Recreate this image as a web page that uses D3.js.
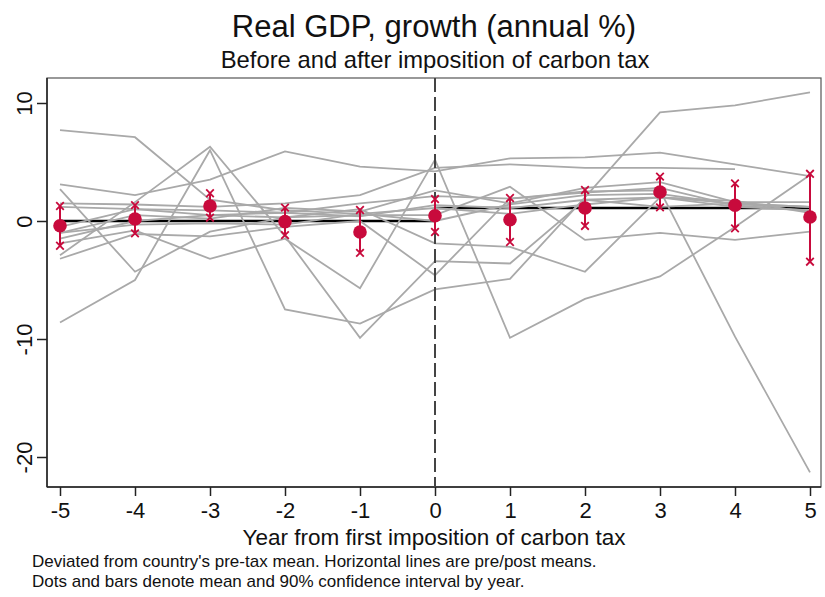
<!DOCTYPE html>
<html>
<head>
<meta charset="utf-8">
<script src="https://cdn.jsdelivr.net/npm/d3@7"></script>
<style>
  body { margin: 0; background: #fff; }
  text { font-family: "Liberation Sans", Arial, sans-serif; fill: #111; }
</style>
</head>
<body>
<div class="chart"></div>
<script>
// years relative to first imposition of the carbon tax
const years = [-5, -4, -3, -2, -1, 0, 1, 2, 3, 4, 5]

// one series per country, deviation from pre-tax mean
const c01 = [7.7, 7.1, 1.8, 0.9, 0.6, 1.1, 0.6, 1.4, 2.0, 1.2, 0.9]
const c02 = [-8.6, -5.0, 6.0, -7.5, -8.7, -5.8, -4.9, 2.0, 9.2, 9.8, 10.9]
const c03 = [-2.9, 1.6, 6.3, -1.3, -9.9, -3.4, -3.6, 1.8, 1.2, 1.5, 1.2]
const c04 = [-1.9, -0.8, -3.2, -1.5, -5.7, 5.2, -9.9, -6.6, -4.7, -0.5, 3.9]
const c05 = [3.1, 2.2, 3.5, 5.9, 4.6, 4.2, 5.3, 5.4, 5.8, 4.8, 3.8]
const c06 = [1.5, 1.4, 1.2, 1.5, 2.2, 4.5, 4.8, 4.5, 4.5, 4.4, null]
const c07 = [2.7, -4.3, -0.9, 0.3, 1.0, -1.9, -2.2, -4.3, 2.0, 1.7, 0.7]
const c08 = [-3.2, -1.1, -1.3, -0.5, 0.0, -4.6, 1.9, 2.4, 2.8, 1.3, 0.9]
const c09 = [1.2, 1.0, 0.5, 0.7, 1.5, 2.1, 1.9, 2.5, 2.6, -9.8, -21.3]
const c10 = [-0.5, 1.0, 0.9, 0.7, 0.4, 1.35, 1.1, 1.8, 2.0, 1.5, 1.2]
const c11 = [-1.0, -0.3, -0.2, -0.3, 0.6, 0.0, 1.4, 2.2, 2.3, 1.4, 1.2]
const c12 = [-1.0, 0.5, 0.2, 1.1, 0.8, 2.6, 1.5, 2.8, 3.3, 1.6, 1.6]
const c13 = [-1.5, 0.0, 0.5, 0.3, 0.5, 0.5, 2.9, -1.6, -1.0, -1.6, -0.9]
const countries = [c01, c02, c03, c04, c05, c06, c07, c08, c09, c10, c11, c12, c13]

// yearly mean and 90% CI
const meanByYear = [-0.4, 0.17, 1.27, -0.05, -0.93, 0.45, 0.11, 1.1, 2.46, 1.33, 0.34]
const ciLow = [-2.1, -1.05, 0.28, -1.2, -2.7, -0.93, -1.78, -0.42, 1.16, -0.62, -3.45]
const ciHigh = [1.27, 1.35, 2.35, 1.13, 0.93, 1.86, 1.95, 2.63, 3.76, 3.19, 4.0]

// pre / post means
const periodMeans = [
    {from: -5, to: 0, value: 0},
    {from: 0, to: 5, value: 1.1}
]

const xTicks = [-5, -4, -3, -2, -1, 0, 1, 2, 3, 4, 5]
const yTicks = [-20, -10, 0, 10]

const width = 825
const height = 597
const red = "#c80a3c"

const svg = d3.select(".chart").append("svg")
    .attr("width", width)
    .attr("height", height)
    .attr("viewBox", [0, 0, width, height])

const frame = {left: 47, right: 821, top: 78, bottom: 487}

const x = d3.scaleLinear().domain([-5, 5]).range([60, 810])
const y = d3.scaleLinear().domain([-20, 10]).range([457, 103])

// stata prints a plain hyphen for negatives
const fmt = d => String(d)

// plot frame
svg.append("rect")
    .attr("x", frame.left)
    .attr("y", frame.top)
    .attr("width", frame.right - frame.left)
    .attr("height", frame.bottom - frame.top)
    .attr("fill", "none")
    .attr("stroke", "#555")
    .attr("stroke-width", 1.2)

// axes
const xAxis = svg.append("g")
    .attr("transform", `translate(0,${frame.bottom})`)
    .call(d3.axisBottom(x).tickValues(xTicks).tickSize(9).tickPadding(6).tickFormat(fmt))
xAxis.select(".domain").attr("d", `M${frame.left},0H${frame.right}`).attr("stroke", "#222").attr("stroke-width", 1.5)
xAxis.selectAll(".tick line").attr("stroke", "#222").attr("stroke-width", 1.5)
xAxis.selectAll(".tick text")
    .style("font-family", "'Liberation Sans', Arial, sans-serif")
    .style("font-size", "22px")
    .attr("fill", "#111")

const yAxis = svg.append("g")
    .attr("transform", `translate(${frame.left},0)`)
    .call(d3.axisLeft(y).tickValues(yTicks).tickSize(10).tickFormat(fmt))
yAxis.select(".domain").attr("d", `M0,${frame.top}V${frame.bottom}`).attr("stroke", "#222").attr("stroke-width", 1.5)
yAxis.selectAll(".tick line").attr("stroke", "#222").attr("stroke-width", 1.5)
yAxis.selectAll(".tick text")
    .attr("x", null).attr("dy", null)
    .attr("transform", "translate(-15,0) rotate(-90)")
    .attr("text-anchor", "middle")
    .style("font-family", "'Liberation Sans', Arial, sans-serif")
    .style("font-size", "22px")
    .attr("fill", "#111")

// pre/post mean lines
svg.append("g")
    .selectAll("line")
    .data(periodMeans)
    .join("line")
    .attr("x1", d => x(d.from))
    .attr("x2", d => x(d.to))
    .attr("y1", d => y(d.value))
    .attr("y2", d => y(d.value))
    .attr("stroke", "#000")
    .attr("stroke-width", 2.6)

// country lines
const line = d3.line()
    .defined(d => d != null)
    .x((d, i) => x(years[i]))
    .y(d => y(d))

svg.append("g")
    .selectAll("path")
    .data(countries)
    .join("path")
    .attr("d", line)
    .attr("fill", "none")
    .attr("stroke", "#a9a9a9")
    .attr("stroke-width", 1.8)

// tax imposition
svg.append("line")
    .attr("x1", x(0)).attr("x2", x(0))
    .attr("y1", frame.top).attr("y2", frame.bottom)
    .attr("stroke", "#444")
    .attr("stroke-width", 2)
    .attr("stroke-dasharray", "14,5")

// CI bars, caps and means
const stats = years.map((yr, i) => ({yr, m: meanByYear[i], lo: ciLow[i], hi: ciHigh[i]}))
const ci = svg.append("g")

ci.selectAll("line.bar")
    .data(stats)
    .join("line")
    .attr("class", "bar")
    .attr("x1", d => x(d.yr)).attr("x2", d => x(d.yr))
    .attr("y1", d => y(d.lo)).attr("y2", d => y(d.hi))
    .attr("stroke", red)
    .attr("stroke-width", 2)

const cross = 3.8
const caps = stats.flatMap(d => [{yr: d.yr, v: d.lo}, {yr: d.yr, v: d.hi}])
ci.selectAll("path.cap")
    .data(caps)
    .join("path")
    .attr("class", "cap")
    .attr("d", d => {
        const cx = x(d.yr), cy = y(d.v)
        return `M${cx - cross},${cy - cross}L${cx + cross},${cy + cross}M${cx - cross},${cy + cross}L${cx + cross},${cy - cross}`
    })
    .attr("stroke", red)
    .attr("stroke-width", 1.8)

ci.selectAll("circle")
    .data(stats)
    .join("circle")
    .attr("cx", d => x(d.yr))
    .attr("cy", d => y(d.m))
    .attr("r", 6.8)
    .attr("fill", red)

// titles
svg.append("text")
    .attr("x", 434).attr("y", 37)
    .attr("text-anchor", "middle")
    .style("font-size", "31px")
    .text("Real GDP, growth (annual %)")

svg.append("text")
    .attr("x", 435).attr("y", 68)
    .attr("text-anchor", "middle")
    .style("font-size", "23.8px")
    .text("Before and after imposition of carbon tax")

svg.append("text")
    .attr("x", 434).attr("y", 545)
    .attr("text-anchor", "middle")
    .style("font-size", "22.5px")
    .text("Year from first imposition of carbon tax")

const notes = [
    "Deviated from country's pre-tax mean. Horizontal lines are pre/post means.",
    "Dots and bars denote mean and 90% confidence interval by year."
]
svg.append("g")
    .selectAll("text")
    .data(notes)
    .join("text")
    .attr("x", 32)
    .attr("y", (d, i) => 567 + i * 19.5)
    .style("font-size", "17px")
    .text(d => d)
</script>
</body>
</html>
